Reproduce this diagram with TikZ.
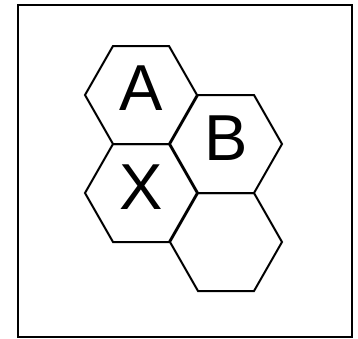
\documentclass[tikz,border=0pt]{standalone}
\usepackage{fontspec}
\setmainfont{Liberation Sans}
\begin{document}
\begin{tikzpicture}[x=1pt,y=-1pt,
  hexline/.style={line width=2pt, line join=miter},
  frame/.style={line width=2pt},
  lbl/.style={inner sep=0pt, font=\fontsize{65}{65}\selectfont}]
\useasboundingbox (0,0) rectangle (358,338);
\draw[frame] (17.5,5) rectangle (351.5,337);
\foreach \cx/\cy in {141/95, 141/193, 226/144, 226/242}{
  \draw[hexline] (\cx-56,\cy) -- (\cx-28,\cy-49) -- (\cx+28,\cy-49) -- (\cx+56,\cy)
     -- (\cx+28,\cy+49) -- (\cx-28,\cy+49) -- cycle;
}
\node[lbl] (A) at (141,88) {A};
\node[lbl] (B) at (226,138) {B};
\node[lbl] (X) at (141,187) {X};
\end{tikzpicture}
\end{document}
